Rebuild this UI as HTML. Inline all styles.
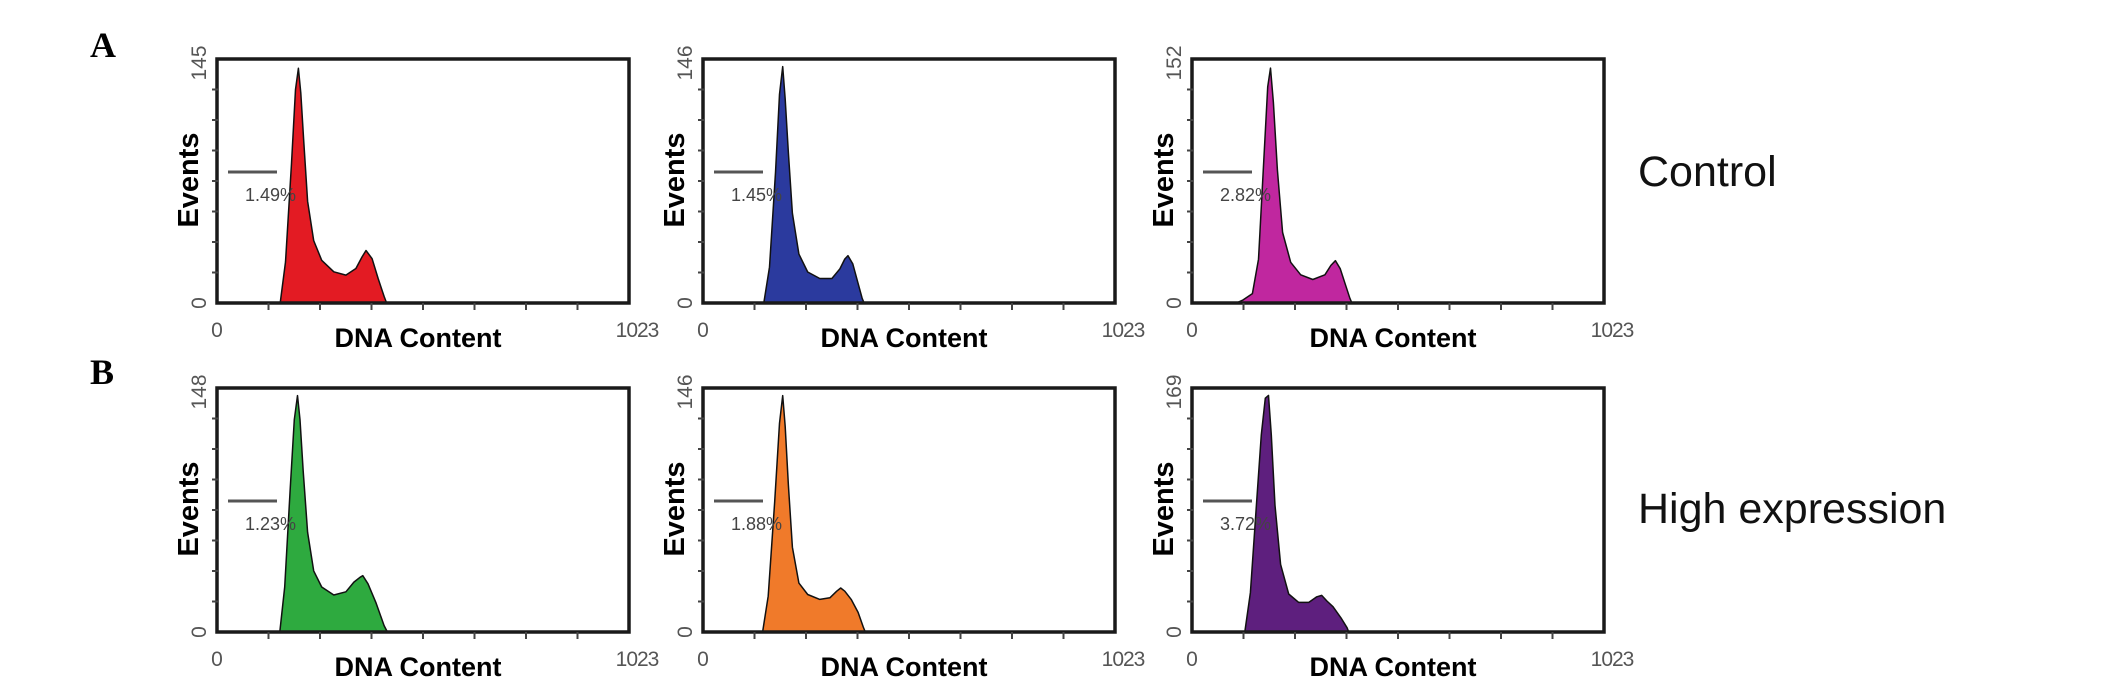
<!DOCTYPE html>
<html><head><meta charset="utf-8">
<style>
html,body{margin:0;padding:0;background:#fff;}
svg{display:block;}
</style></head>
<body>
<svg id="fig" width="2126" height="688" viewBox="0 0 2126 688" xmlns="http://www.w3.org/2000/svg">
  <text x="90" y="57" font-family="Liberation Serif, serif" font-weight="bold" font-size="36">A</text>
  <text x="90" y="384" font-family="Liberation Serif, serif" font-weight="bold" font-size="36">B</text>
  <text x="1638" y="186" font-family="Liberation Sans, sans-serif" font-size="43" fill="#111">Control</text>
  <text x="1638" y="523" font-family="Liberation Sans, sans-serif" font-size="43" fill="#111">High expression</text>
</svg>
<script>
const NS='http://www.w3.org/2000/svg';
const svg=document.getElementById('fig');
const xMax=1023;
const yMaxLabels=[145,146,152,148,146,169];
const gatePercents=['1.49%','1.45%','2.82%','1.23%','1.88%','3.72%'];
const chRed=[150,157,170,185,195,202,208,215,225,240,260,290,320,345,360,370,385,400,415,421];
const evRed=[0,0,25,85,130,143,128,100,62,38,26,19,17,21,28,32,27,15,4,0];
const chBlue=[145,151,165,180,190,198,204,212,222,238,260,290,320,340,352,360,372,385,395,400];
const evBlue=[0,0,22,80,128,145,125,92,55,30,19,15,15,21,27,29,24,12,3,0];
const chMagenta=[110,127,150,165,178,188,195,202,212,225,245,270,300,330,345,356,368,382,392,397];
const evMagenta=[0,2,6,28,90,138,150,128,85,45,26,18,15,18,24,27,22,11,3,0];
const chGreen=[150,156,168,182,192,200,206,214,225,240,260,290,320,340,355,362,375,395,415,423];
const evGreen=[0,0,28,90,132,147,132,100,62,38,28,23,25,31,34,35,30,18,4,0];
const chOrange=[142,148,162,178,190,198,204,212,222,238,260,290,315,332,342,352,368,385,398,403];
const evOrange=[0,0,22,80,128,145,126,90,52,30,23,20,21,25,27,25,20,12,3,0];
const chPurple=[125,131,145,160,172,182,190,197,206,220,240,265,290,310,322,335,350,370,385,389];
const evPurple=[0,0,28,90,140,166,168,140,90,48,27,21,21,25,26,22,18,10,3,0];

const channels=[chRed,chBlue,chMagenta,chGreen,chOrange,chPurple];
const events=[evRed,evBlue,evMagenta,evGreen,evOrange,evPurple];
const colors=['#e31b23','#2b3a9e','#c0279f','#2eaa3f','#f07a2a','#5e1f7e'];
const names=['red','blue','magenta','green','orange','purple'];
const lefts=[217,703,1192];
const tops=[59,388];
const W=412,H=244;

function mk(tag,attrs,parent){const e=document.createElementNS(NS,tag);for(const k in attrs)e.setAttribute(k,attrs[k]);(parent||svg).appendChild(e);return e;}

for(let i=0;i<6;i++){
  const L=lefts[i%3],T=tops[Math.floor(i/3)];
  const g=mk('g',{});
  
  
  const ymax=yMaxLabels[i];
  const sx=v=>L+v/xMax*W;
  const sy=v=>T+H-v/ymax*(H-6);
  let d='M'+sx(channels[i][0])+','+sy(0);
  channels[i].forEach((c,j)=>{d+=' L'+sx(c).toFixed(1)+','+sy(events[i][j]).toFixed(1);});
  d+=' Z';
  const p=mk('path',{d:d,fill:colors[i],stroke:'#111','stroke-width':1.5,'stroke-linejoin':'round'},g);
  
  
  const f=mk('rect',{x:L,y:T,width:W,height:H,fill:'none',stroke:'#1a1a1a','stroke-width':3.5},g);
  
  
  for(let k=1;k<8;k++){
    mk('line',{x1:L+k*W/8,y1:T+H,x2:L+k*W/8,y2:T+H+7,stroke:'#444','stroke-width':2},g);
    mk('line',{x1:L-5,y1:T+k*H/8,x2:L+1,y2:T+k*H/8,stroke:'#444','stroke-width':2},g);
  }
  const t0=mk('text',{x:L,y:T+H+34,'font-family':'Liberation Sans, sans-serif','font-size':21,fill:'#555','text-anchor':'middle'},g);
  t0.textContent='0';
  
  
  const t1=mk('text',{x:L+W+8,y:T+H+34,'font-family':'Liberation Sans, sans-serif','font-size':21,fill:'#555','text-anchor':'middle','letter-spacing':'-1'},g);
  t1.textContent='1023';
  
  
  const y0=mk('text',{x:0,y:0,transform:'translate('+(L-11)+','+(T+H)+') rotate(-90)','font-family':'Liberation Sans, sans-serif','font-size':21,fill:'#555','text-anchor':'middle'},g);
  y0.textContent='0';
  
  
  const y1=mk('text',{x:0,y:0,transform:'translate('+(L-11)+','+(T+4)+') rotate(-90)','font-family':'Liberation Sans, sans-serif','font-size':21,fill:'#555','text-anchor':'middle'},g);
  y1.textContent=String(ymax);
  
  
  const xt=mk('text',{x:L+W/2-5,y:T+H+44,'font-family':'Liberation Sans, sans-serif','font-size':27,'font-weight':'bold',fill:'#000','text-anchor':'middle'},g);
  xt.textContent='DNA Content';
  
  
  const yt=mk('text',{x:0,y:0,transform:'translate('+(L-19)+','+(T+121)+') rotate(-90)','font-family':'Liberation Sans, sans-serif','font-size':29,'font-weight':'bold',fill:'#000','text-anchor':'middle'},g);
  yt.textContent='Events';
  
  
  const gl=mk('line',{x1:L+11,y1:T+113,x2:L+60,y2:T+113,stroke:'#555','stroke-width':3},g);
  
  
  const gt=mk('text',{x:L+28,y:T+142,'font-family':'Liberation Sans, sans-serif','font-size':18,fill:'#444'},g);
  gt.textContent=gatePercents[i];
  
  
}
</script>
</body></html>
